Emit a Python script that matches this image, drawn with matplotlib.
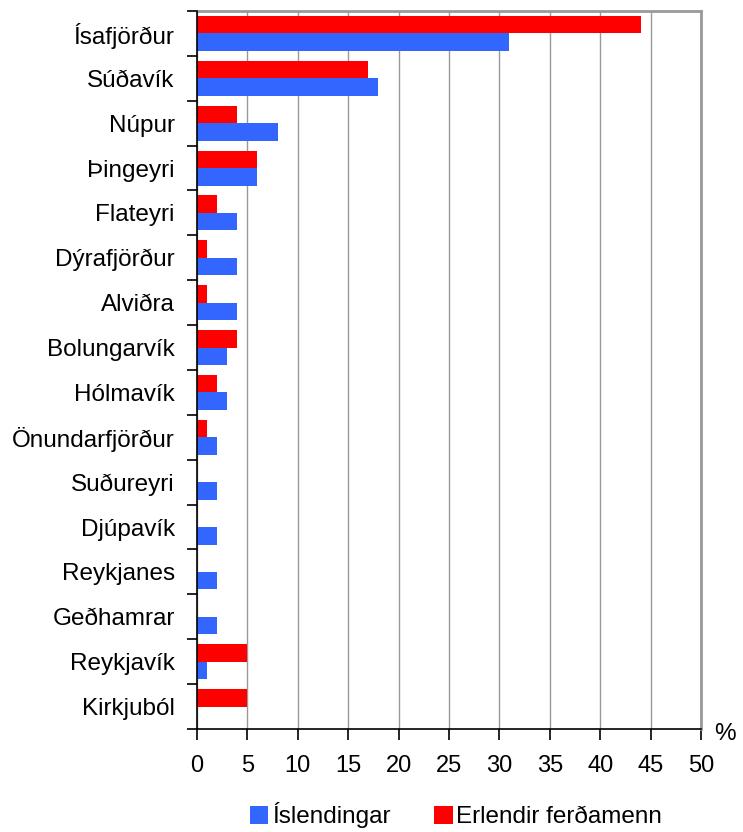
import matplotlib
matplotlib.use("Agg")
import matplotlib.pyplot as plt
from matplotlib.patches import Patch
import numpy as np

plt.rcParams['font.family'] = ['Liberation Sans', 'DejaVu Sans']

# data (percent)
places = ["Ísafjörður", "Súðavík", "Núpur", "Þingeyri", "Flateyri", "Dýrafjörður",
          "Alviðra", "Bolungarvík", "Hólmavík", "Önundarfjörður", "Suðureyri",
          "Djúpavík", "Reykjanes", "Geðhamrar", "Reykjavík", "Kirkjuból"]
islendingar = [31, 18, 8, 6, 4, 4, 4, 3, 3, 2, 2, 2, 2, 2, 1, 0]
erlendir = [44, 17, 4, 6, 2, 1, 1, 4, 2, 1, 0, 0, 0, 0, 5, 5]

blue = "#3366FF"
red = "#FF0000"

fig = plt.figure(figsize=(7.43, 8.32), dpi=100)
ax = fig.add_axes([0.265, 0.1238, 0.6785, 0.863])

y = np.arange(len(places))
h = 0.39
ax.barh(y - 0.195, erlendir, height=h, color=red, zorder=3)
ax.barh(y + 0.195, islendingar, height=h, color=blue, zorder=3)

ax.set_ylim(len(places) - 0.5, -0.5)
ax.set_xlim(0, 50)

# category boundaries as ticks, labels at centers
ax.set_yticks(np.arange(-0.5, len(places), 1.0))
ax.set_yticklabels([])
ax.set_yticks(y, minor=True)
ax.set_yticklabels(places, minor=True, fontsize=17.5)
ax.tick_params(axis='y', which='major', length=7, width=1.2, direction='out', color='black')
ax.tick_params(axis='y', which='minor', length=0, pad=16)

ax.set_xticks(np.arange(0, 51, 5))
ax.tick_params(axis='x', length=8, width=1.2, direction='out', labelsize=17, pad=11)

ax.grid(axis='x', color='#999999', linewidth=1, zorder=0)
ax.set_axisbelow(True)

for s in ['top', 'right']:
    ax.spines[s].set_color('#999999')
    ax.spines[s].set_linewidth(2)
for s in ['left', 'bottom']:
    ax.spines[s].set_color('black')
    ax.spines[s].set_linewidth(1.2)
    ax.spines[s].set_zorder(4)

fig.text(0.99, 0.118, "%", fontsize=17.5, ha='right', va='center')

handles = [Patch(facecolor=blue, label="Íslendingar"),
           Patch(facecolor=red, label="Erlendir ferðamenn")]
fig.legend(handles=handles, loc='center', bbox_to_anchor=(0.614, 0.02), ncol=2,
           frameon=False, fontsize=17.5, handlelength=0.75, handleheight=0.75,
           handletextpad=0.15, columnspacing=1.8, borderaxespad=0)

fig.savefig("out.png", dpi=100)
